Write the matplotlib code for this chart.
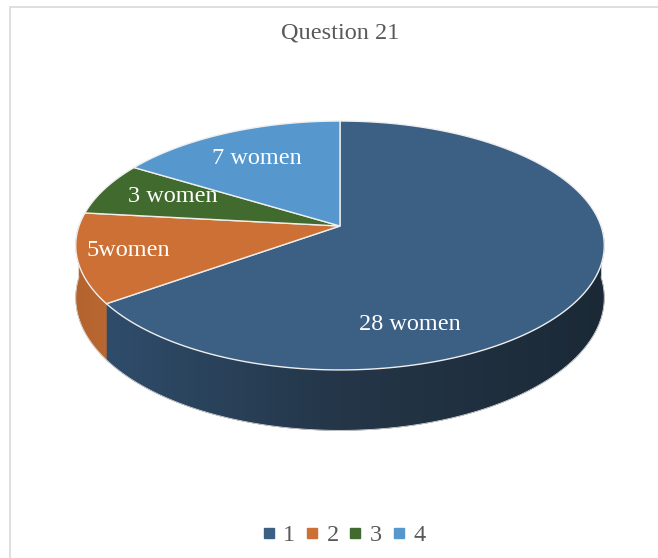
import numpy as np
import matplotlib
matplotlib.use('Agg')
import matplotlib.pyplot as plt
from matplotlib.patches import Polygon
from matplotlib.lines import Line2D

# ---------------- data ----------------
categories = ['1', '2', '3', '4']
values = [28, 5, 3, 7]
slice_labels = ['28 women', '5women', '3 women', '7 women']
title = 'Question 21'

# ---------------- style ----------------
top_colors = ['#3C5F84', '#CC7035', '#416A2E', '#5698CE']
W, H = 658, 558
fig = plt.figure(figsize=(W / 100, H / 100), dpi=100)
ax = fig.add_axes([0, 0, 1, 1])
ax.set_xlim(0, W)
ax.set_ylim(H, 0)
ax.axis('off')

SERIF = ['Liberation Serif', 'DejaVu Serif']

# perspective disk geometry (pixels)
cx, cy = 340.0, 226.0
A, B, k = 261.0, 121.4, 0.1566
T = 51.0  # thickness (scaled by perspective)


def proj(theta_deg, r=1.0, drop=0.0):
    th = np.radians(theta_deg)
    u = r * np.sin(th)
    v = r * np.cos(th)
    w = 1 + k * v
    x = cx + A * u / w
    y = cy - B * v / w + drop * T / w
    return x, y


total = float(sum(values))
bounds = np.concatenate([[0], np.cumsum(values)]) / total * 360.0

# side shading: colour stops along screen x (pixels)
side_stops = [
    [(100, (47, 77, 108)), (340, (36, 54, 72)), (610, (27, 41, 54))],
    [(70, (178, 98, 45)), (110, (186, 104, 50))],
    None,
    None,
]

xs_img = np.linspace(0, W, W + 1)

# ---------------- side walls ----------------
for i in range(len(values)):
    a0, a1 = bounds[i], bounds[i + 1]
    lo, hi = max(a0, 90.0), min(a1, 270.0)
    if hi <= lo or side_stops[i] is None:
        continue
    tt = np.linspace(lo, hi, 200)
    xt, yt = proj(tt)
    xb, yb = proj(tt[::-1], drop=1)
    pts = list(zip(xt, yt)) + list(zip(xb, yb))
    poly = Polygon(pts, closed=True, facecolor='none', edgecolor='none')
    ax.add_patch(poly)
    stops = side_stops[i]
    sx = [s[0] for s in stops]
    rgb = np.stack([np.interp(xs_img, sx, [s[1][c] for s in stops]) for c in range(3)], axis=-1) / 255.0
    img = np.repeat(rgb[None, :, :], 2, axis=0)
    im = ax.imshow(img, extent=(0, W, H, 0), aspect='auto', zorder=2,
                   interpolation='bilinear')
    im.set_clip_path(poly)
    # base fill for antialiased edge
    ax.add_patch(Polygon(pts, closed=True, facecolor='none',
                         edgecolor=tuple(np.array(stops[len(stops) // 2][1]) / 255),
                         linewidth=0.4, zorder=2.1))

# outline of bottom edge of side wall
tt = np.linspace(90, 270, 200)
bx, by = proj(tt, drop=1)
ax.plot(bx, by, color='#d6d6d6', lw=0.6, zorder=2.5)

# ---------------- top faces ----------------
for i in range(len(values)):
    a0, a1 = bounds[i], bounds[i + 1]
    tt = np.linspace(a0, a1, 200)
    xs, ys = proj(tt)
    pts = [(cx, cy)] + list(zip(xs, ys))
    ax.add_patch(Polygon(pts, closed=True, facecolor=top_colors[i],
                         edgecolor='#eeeeee', linewidth=1.0, zorder=3))

# ---------------- labels ----------------
label_pos = [(410, 325), (128, 251), (173, 196), (257, 158)]
for lab, (lx, ly) in zip(slice_labels, label_pos):
    ax.text(lx, ly, lab, color='white', fontsize=17.5, family=SERIF,
            ha='center', va='center', zorder=5)

# ---------------- title ----------------
ax.text(340, 33, title, color='#595959', fontsize=17.5, family=SERIF,
        ha='center', va='center')

# ---------------- chart border ----------------
ax.plot([9.5, 9.5, W + 5], [H + 5, 6.5, 6.5], color='#d9d9d9', lw=1.2,
        solid_joinstyle='miter', zorder=1)

# ---------------- legend ----------------
handles = [Line2D([], [], marker='s', linestyle='none', markersize=7.2,
                  markerfacecolor=c, markeredgecolor=c, label=lab)
           for c, lab in zip(top_colors, categories)]
leg = fig.legend(handles=handles, loc='center', ncol=4, frameon=False,
                 bbox_to_anchor=(344 / W, 1 - 535 / H),
                 prop={'family': SERIF, 'size': 17.5},
                 handlelength=0.5, handletextpad=0.35, columnspacing=0.43,
                 borderpad=0)
for t in leg.get_texts():
    t.set_color('#595959')

fig.savefig('out.png', dpi=100)
